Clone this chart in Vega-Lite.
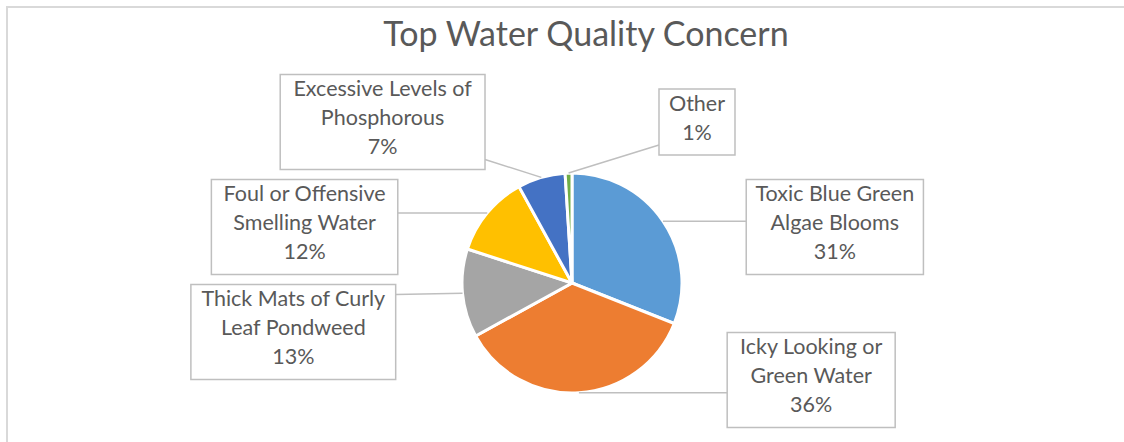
{
  "$schema": "https://vega.github.io/schema/vega-lite/v6.json",
  "width": 1130,
  "height": 448,
  "autosize": {"type": "none"},
  "padding": {"left": 7, "top": 7, "right": -13, "bottom": -13},
  "background": "white",
  "config": {"view": {"stroke": "#D9D9D9", "strokeWidth": 2}, "font": "Lato"},
  "title": {"text": "Top Water Quality Concern", "fontSize": 34, "font": "Lato", "fontWeight": 400, "color": "#595959", "anchor": "middle", "dx": 14, "dy": 50},
  "data": {"values": [
    {"concern": "Toxic Blue Green Algae Blooms", "pct": 31},
    {"concern": "Icky Looking or Green Water", "pct": 36},
    {"concern": "Thick Mats of Curly Leaf Pondweed", "pct": 13},
    {"concern": "Foul or Offensive Smelling Water", "pct": 12},
    {"concern": "Excessive Levels of Phosphorous", "pct": 7},
    {"concern": "Other", "pct": 1}
  ]},
  "transform": [
    {"stack": "pct", "groupby": [], "as": ["s0", "s1"]},
    {"calculate": "PI*(datum.s0+datum.s1)/100", "as": "a"},
    {"calculate": "sin(datum.a+0.05) >= 0 ? 1 : -1", "as": "side"},
    {"calculate": "cos(datum.a+0.05)", "as": "vkey"},
    {"window": [{"op": "row_number", "as": "rk"}], "groupby": ["side"], "sort": [{"field": "vkey", "order": "descending"}]},
    {"calculate": "max(min(161-105*(datum.rk-1), 180*cos(datum.a)), -97)", "as": "cy"},
    {"calculate": "replace(datum.concern, regexp('^(.{1,19}) '), '$1\\n')", "as": "wrapped"},
    {"calculate": "datum.wrapped + '\\n' + datum.pct + '%'", "as": "labelText"},
    {"calculate": "max(length(split(datum.wrapped,'\\n')[0]), length(split(datum.wrapped,'\\n')[1] || ''))", "as": "maxLen"},
    {"calculate": "length(split(datum.labelText,'\\n'))", "as": "nLines"},
    {"calculate": "datum.cy + 14.5*(datum.nLines-1) + 3", "as": "ty"},
    {"calculate": "9.2*datum.maxLen+30", "as": "bw"},
    {"calculate": "29*datum.nLines+8", "as": "bh"},
    {"calculate": "sqrt(max(0, 183*183 - datum.cy*datum.cy))", "as": "edge"},
    {"calculate": "datum.side*datum.edge", "as": "inner"},
    {"calculate": "datum.side*(datum.edge+datum.bw)", "as": "outer"},
    {"calculate": "datum.side*(datum.edge+datum.bw/2)", "as": "bx"},
    {"calculate": "datum.cy+datum.bh/2", "as": "btop"},
    {"calculate": "datum.cy-datum.bh/2", "as": "bbot"},
    {"calculate": "110*sin(datum.a)", "as": "px"},
    {"calculate": "110*cos(datum.a)", "as": "py"},
    {"calculate": "min(max(datum.py, datum.bbot+10), datum.btop-10)", "as": "ly"}
  ],
  "layer": [
    {
      "mark": {"type": "arc", "outerRadius": 110, "stroke": "white", "strokeWidth": 3},
      "encoding": {
        "theta": {"field": "s0", "type": "quantitative", "scale": {"domain": [0, 100]}},
        "theta2": {"field": "s1"},
        "x": {"datum": 0, "type": "quantitative", "scale": {"domain": [-565, 565], "nice": false, "zero": false}, "axis": null},
        "y": {"datum": 0, "type": "quantitative", "scale": {"domain": [-172, 276], "nice": false, "zero": false}, "axis": null},
        "color": {"field": "concern", "type": "nominal", "legend": null,
          "scale": {"domain": ["Toxic Blue Green Algae Blooms", "Icky Looking or Green Water", "Thick Mats of Curly Leaf Pondweed", "Foul or Offensive Smelling Water", "Excessive Levels of Phosphorous", "Other"],
                    "range": ["#5B9BD5", "#ED7D31", "#A5A5A5", "#FFC000", "#4472C4", "#70AD47"]}}
      }
    },
    {
      "mark": {"type": "rule", "color": "#BFBFBF", "strokeWidth": 1.5},
      "encoding": {
        "x": {"field": "px", "type": "quantitative", "scale": {"domain": [-565, 565], "nice": false, "zero": false}, "axis": null},
        "x2": {"field": "inner"},
        "y": {"field": "py", "type": "quantitative", "scale": {"domain": [-172, 276], "nice": false, "zero": false}, "axis": null},
        "y2": {"field": "ly"}
      }
    },
    {
      "mark": {"type": "rect", "fill": "white", "stroke": "#BFBFBF", "strokeWidth": 1.5},
      "encoding": {
        "x": {"field": "inner", "type": "quantitative", "scale": {"domain": [-565, 565], "nice": false, "zero": false}, "axis": null},
        "x2": {"field": "outer"},
        "y": {"field": "bbot", "type": "quantitative", "scale": {"domain": [-172, 276], "nice": false, "zero": false}, "axis": null},
        "y2": {"field": "btop"}
      }
    },
    {
      "mark": {"type": "text", "lineBreak": "\n", "align": "center", "baseline": "middle", "fontSize": 21.5, "lineHeight": 29, "color": "#595959", "font": "Lato"},
      "encoding": {
        "x": {"field": "bx", "type": "quantitative", "scale": {"domain": [-565, 565], "nice": false, "zero": false}, "axis": null},
        "y": {"field": "ty", "type": "quantitative", "scale": {"domain": [-172, 276], "nice": false, "zero": false}, "axis": null},
        "text": {"field": "labelText"}
      }
    }
  ]
}
